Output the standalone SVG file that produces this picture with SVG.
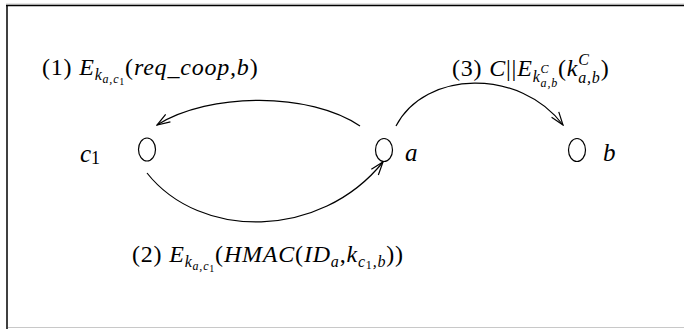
<svg xmlns="http://www.w3.org/2000/svg" width="684" height="329" viewBox="0 0 684 329">
<defs>
<style>
.frame-dark{stroke:#000;stroke-width:1.5;fill:none}
.frame-light{stroke:#c8c8c8;stroke-width:1;fill:none}
.node{fill:none;stroke:#000;stroke-width:1.2}
.edge{fill:none;stroke:#000;stroke-width:1.2}
.lbl{font-family:"Liberation Serif","Times New Roman",serif;font-size:24px;letter-spacing:0.8px;fill:#000}
.nlbl{font-family:"Liberation Serif","Times New Roman",serif;font-size:25px;font-style:italic;fill:#000}
.i{font-style:italic}
.s1{font-size:16px}
.s2{font-size:12px}
.s3{font-size:10px}
</style>
<marker id="arr" viewBox="0 0 15 11" refX="14" refY="5.5" markerWidth="15" markerHeight="11" markerUnits="userSpaceOnUse" orient="auto">
<path d="M1,1 L14,5.5 L1,10" fill="none" stroke="#000" stroke-width="1.2"/>
</marker>
</defs>
<rect x="0" y="0" width="684" height="329" fill="#fff"/>
<g id="frame">
<line class="frame-light" x1="6" y1="4" x2="684" y2="4"/>
<line class="frame-dark" x1="6" y1="5.5" x2="684" y2="5.5"/>
<line class="frame-dark" x1="7" y1="5" x2="7" y2="329"/>
<line class="frame-light" x1="8" y1="327.5" x2="684" y2="327.5"/>
</g>
<g id="connectors">
<path class="edge" d="M360,126 C310,92 210,92 157,125" marker-end="url(#arr)"/>
<path class="edge" d="M147,173 C200,240 320,240 383,162" marker-end="url(#arr)"/>
<path class="edge" d="M396,126 C425,70 520,68 563,125" marker-end="url(#arr)"/>
</g>
<g id="edge-labels">
<text class="lbl" x="42" y="75">(1) <tspan class="i">E</tspan><tspan class="i s1" dy="5">k</tspan><tspan class="i s2" dy="3">a,c</tspan><tspan class="s3" dy="2">1</tspan><tspan dy="-10">(</tspan><tspan class="i">req_coop,b</tspan>)</text>
<text class="lbl" x="132" y="262">(2) <tspan class="i">E</tspan><tspan class="i s1" dy="5">k</tspan><tspan class="i s2" dy="3">a,c</tspan><tspan class="s3" dy="2">1</tspan><tspan dy="-10">(</tspan><tspan class="i">HMAC</tspan>(<tspan class="i">ID</tspan><tspan class="i s1" dy="5">a</tspan><tspan dy="-5">,</tspan><tspan class="i">k</tspan><tspan class="i s1" dy="5">c</tspan><tspan class="s2" dy="2">1</tspan><tspan class="i s1" dy="-2">,b</tspan><tspan dy="-5">))</tspan></text>
<text class="lbl" x="452" y="76">(3) <tspan class="i">C</tspan>||<tspan class="i">E</tspan><tspan class="i s1" dy="6">k</tspan><tspan class="i s2" dy="-9">C</tspan><tspan class="i s2" dx="-8.8" dy="14">a,b</tspan><tspan dy="-11">(</tspan><tspan class="i">k</tspan><tspan class="i s1" dy="-11">C</tspan><tspan class="i s1" dx="-11.5" dy="18">a,b</tspan><tspan dy="-7">)</tspan></text>
</g>
<g id="node-c1">
<ellipse class="node" cx="147" cy="149.5" rx="8.5" ry="11.5"/>
<text class="nlbl" x="80" y="162">c<tspan font-size="18" font-style="normal" dy="2">1</tspan></text>
</g>
<g id="node-a">
<ellipse class="node" cx="384" cy="150" rx="8.5" ry="11.5"/>
<text class="nlbl" x="405" y="161">a</text>
</g>
<g id="node-b">
<ellipse class="node" cx="577" cy="150" rx="8.5" ry="11.5"/>
<text class="nlbl" x="603" y="161">b</text>
</g>
</svg>
